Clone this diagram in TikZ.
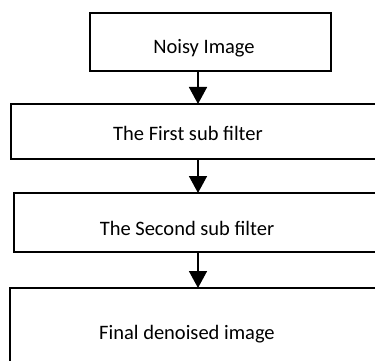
\documentclass[tikz,border=0pt]{standalone}
\usepackage{fontspec}
\setmainfont{Carlito}
\usetikzlibrary{arrows.meta}
\begin{document}
\begin{tikzpicture}[x=1pt,y=-1pt,
  boxst/.style={draw=black,line width=1.5pt,fill=white},
  lbl/.style={font=\fontsize{20.5}{24}\selectfont,text=black,inner sep=0pt,anchor=base},
  arr/.style={line width=1.6pt,-{Triangle[length=17pt,width=18pt]}}]
\useasboundingbox (0,0) rectangle (375,361);
\clip (0,0) rectangle (375,361);
\coordinate (b1nw) at (90,13);
\coordinate (b1se) at (331,71);
\draw[boxst] (b1nw) rectangle (b1se);
\draw[boxst] (11,104) rectangle (390,159);
\draw[boxst] (14,193) rectangle (390,252);
\draw[boxst] (10,288) rectangle (390,380);
\node[lbl] (t1) at (204,54) {Noisy Image};
\node[lbl] (t2) at (188,140) {The First sub filter};
\node[lbl] (t3) at (187,235) {The Second sub filter};
\node[lbl] (t4) at (187,339) {Final denoised image};
\coordinate (a1s) at (198,71);
\coordinate (a1e) at (198,104);
\coordinate (a2s) at (198,159);
\coordinate (a2e) at (198,193);
\coordinate (a3s) at (198,252);
\coordinate (a3e) at (198,288);
\draw[arr] (a1s) -- (a1e);
\draw[arr] (a2s) -- (a2e);
\draw[arr] (a3s) -- (a3e);
\end{tikzpicture}
\end{document}
